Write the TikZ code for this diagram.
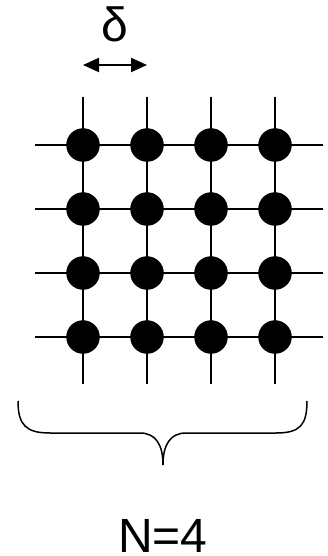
\documentclass[tikz,border=0pt]{standalone}
\usepackage{fontspec}
\setmainfont{Liberation Sans}
\usetikzlibrary{arrows.meta}
\begin{document}
\begin{tikzpicture}[x=1pt,y=-1pt,
  wire/.style={line width=2.1pt,black},
  site/.style={circle,fill=black,inner sep=0pt,minimum size=33.5pt},
  lbl/.style={font=\fontsize{48}{48}\selectfont,inner sep=0pt,anchor=base}]
\useasboundingbox (0,0) rectangle (327,556);
% row wires
\foreach \r/\y in {1/145,2/209,3/273,4/337}{
  \coordinate (rl\r) at (35,\y);
  \coordinate (rr\r) at (322.7,\y);
  \draw[wire] (rl\r) -- (rr\r);
}
% column wires
\foreach \c/\x in {1/83,2/147,3/211,4/275}{
  \coordinate (ct\c) at (\x,97);
  \coordinate (cb\c) at (\x,384);
  \draw[wire] (ct\c) -- (cb\c);
}
% sites
\foreach \r/\y in {1/145,2/209,3/273,4/337}{
  \foreach \c/\x in {1/83,2/147,3/211,4/275}{
    \node[site] (s\r\c) at (\x,\y) {};
  }
}
% spacing arrow
\coordinate (al) at (83,65);
\coordinate (ar) at (147,65);
\draw[line width=2pt,{Triangle[length=16pt,width=14pt]}-{Triangle[length=16pt,width=14pt]}] (al) -- (ar);
\node[lbl] (delta) at (115,42) {δ};
% brace
\coordinate (bl) at (18,401);
\coordinate (br) at (307,401);
\coordinate (bt) at (163,465);
\draw[line width=1.5pt] (bl) .. controls (18,425) and (26,433) .. (50,433)
  -- (140,433) .. controls (156,433) and (163,445) .. (bt)
  .. controls (163,445) and (170,433) .. (186,433)
  -- (276,433) .. controls (300,433) and (307,425) .. (br);
\node[lbl] (N) at (163,552) {N=4};
\end{tikzpicture}
\end{document}
